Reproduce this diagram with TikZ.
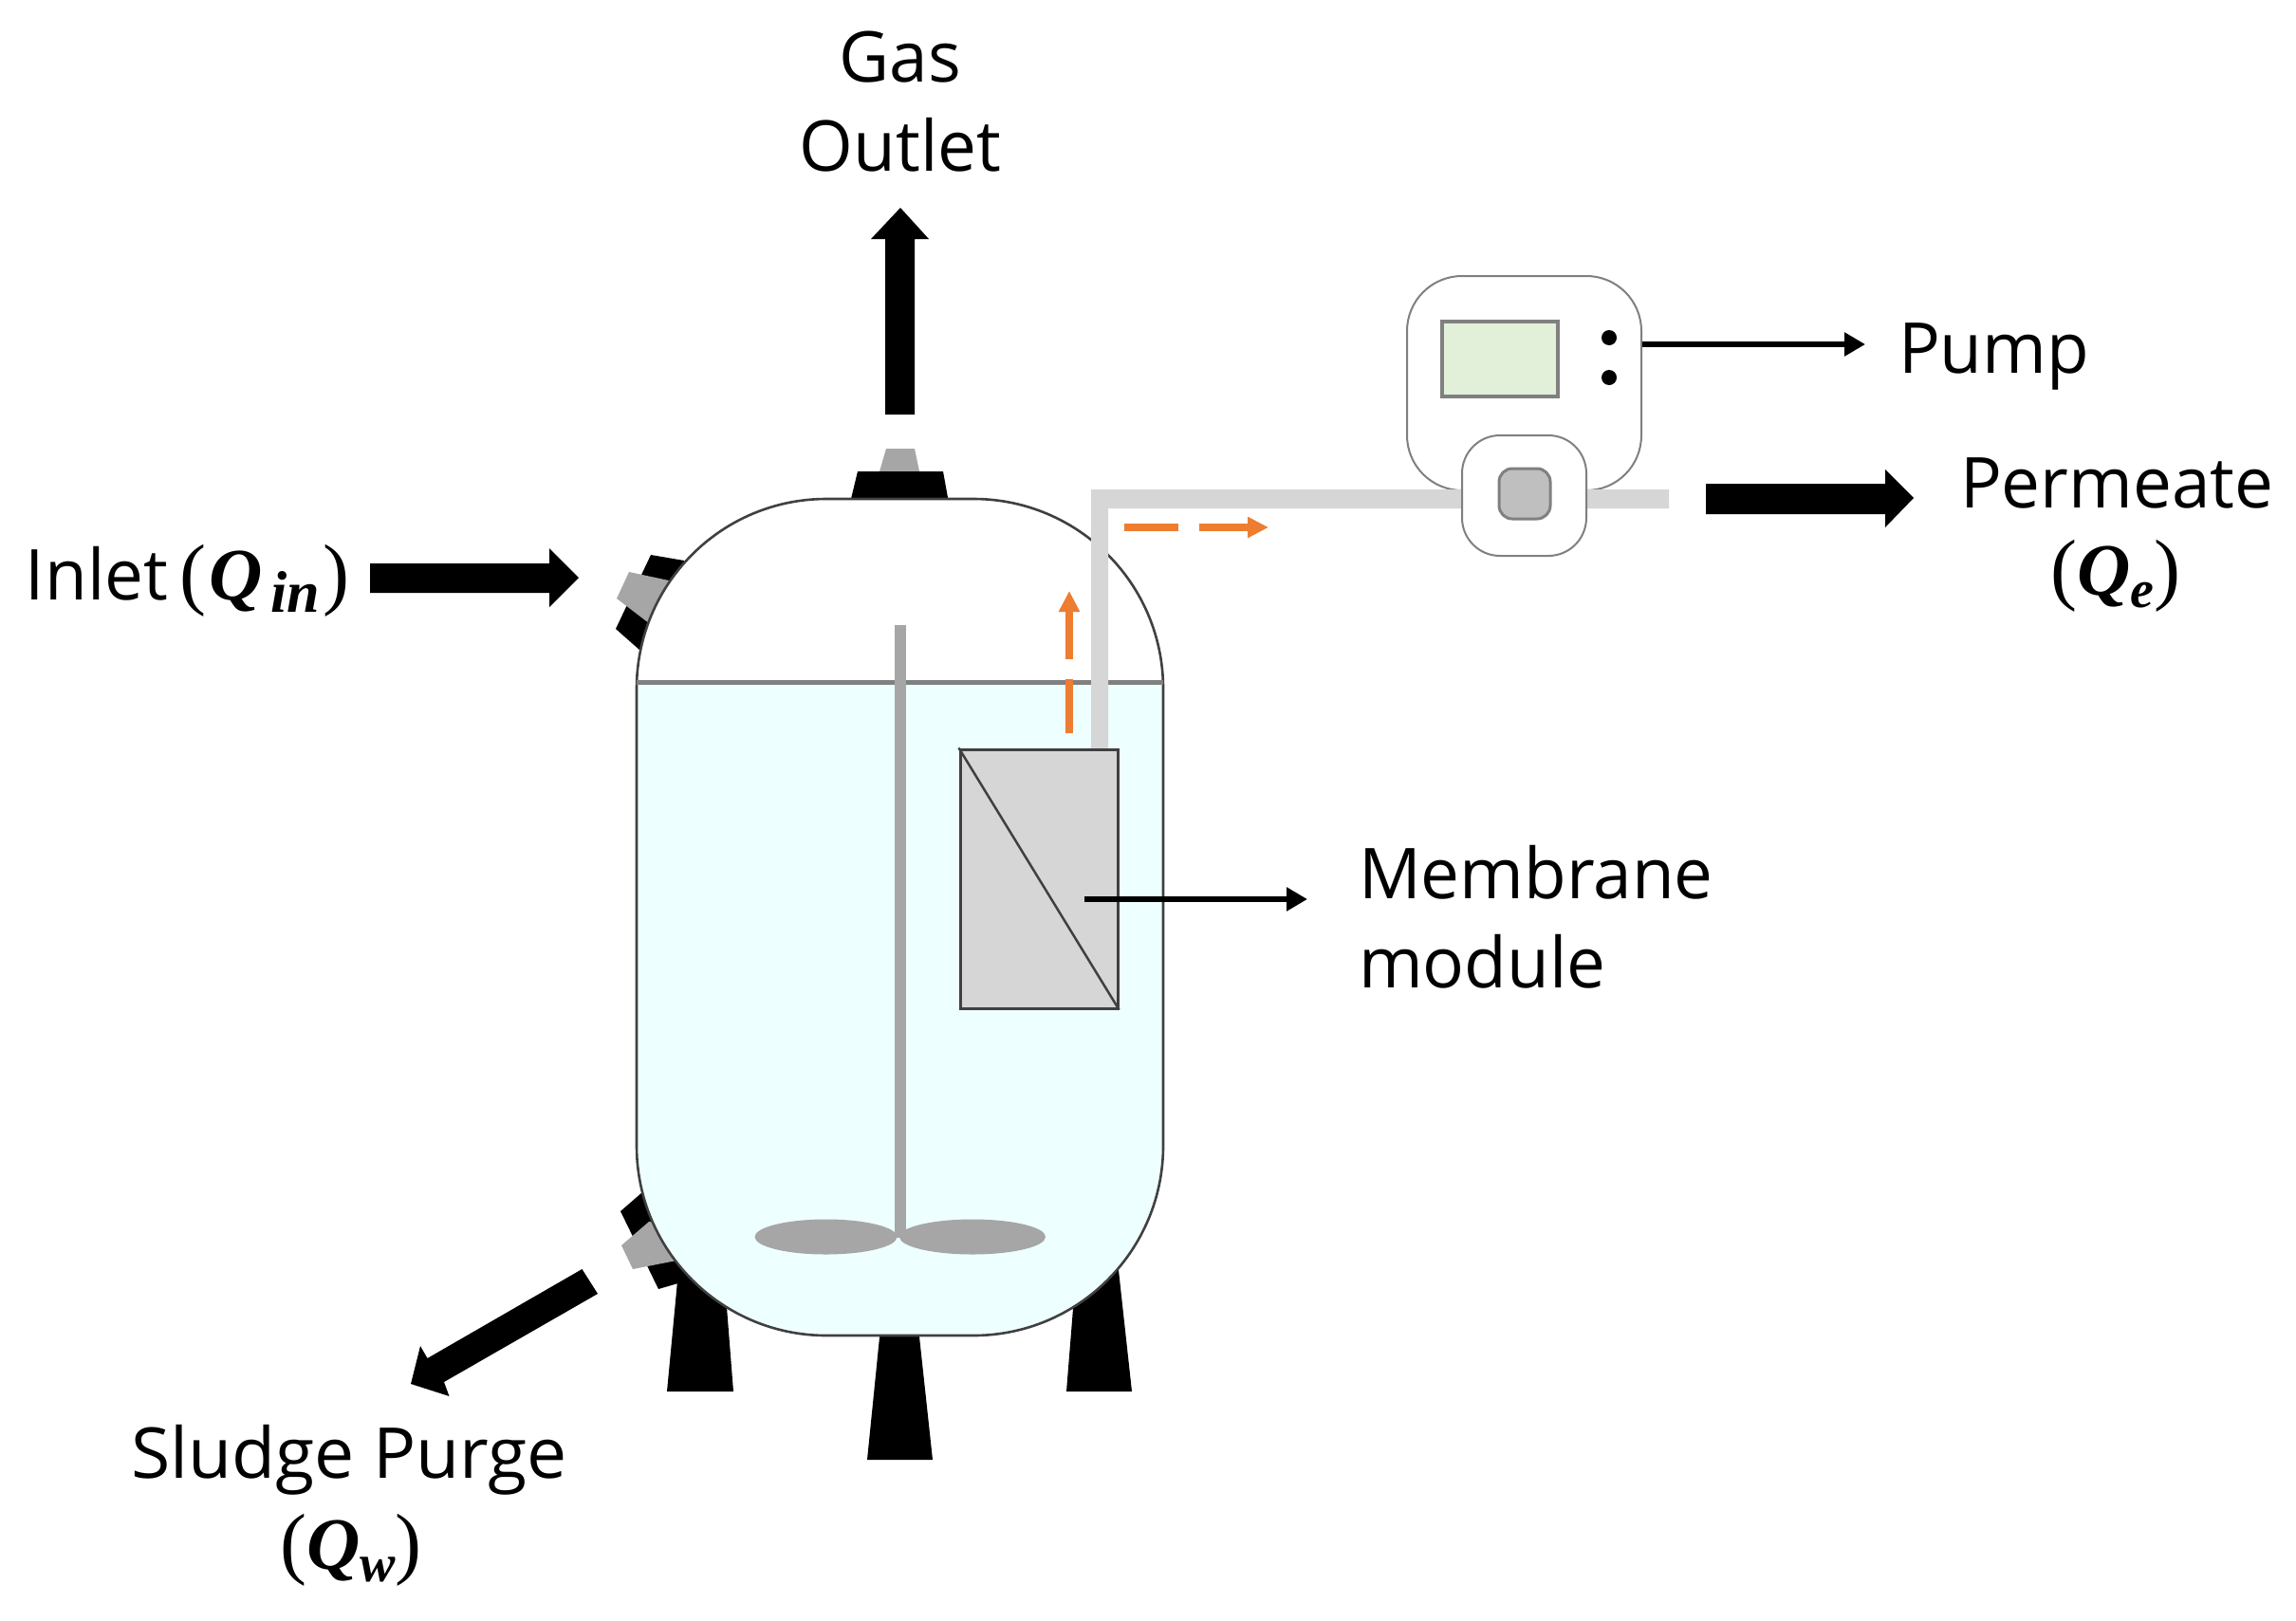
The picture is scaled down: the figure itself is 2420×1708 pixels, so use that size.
\documentclass[tikz,border=0pt]{standalone}
\usepackage{fontspec}
\setmainfont[FakeStretch=0.985]{Open Sans}
\newfontfamily\widefont[FakeStretch=1.015]{Open Sans}
\newfontfamily\qfont{Liberation Serif}
\usetikzlibrary{arrows.meta}
\definecolor{liquid}{HTML}{EEFFFF}
\definecolor{pipegray}{HTML}{D6D6D6}
\definecolor{partgray}{HTML}{A6A6A6}
\definecolor{linegray}{HTML}{808080}
\definecolor{tankline}{HTML}{404040}
\definecolor{flow}{HTML}{ED7D31}
\definecolor{screen}{HTML}{E2EFD9}
\newcommand{\lbl}{\fontsize{74}{74}\selectfont}
\newcommand{\qsym}[1]{{\qfont\bfseries\itshape\fontsize{78}{78}\selectfont Q\raisebox{-13pt}{\fontsize{56}{56}\selectfont #1}}}
\newcommand{\qsymwide}[1]{{\qfont\bfseries\itshape\fontsize{78}{78}\selectfont Q\hspace{9pt}\raisebox{-13pt}{\fontsize{62}{62}\selectfont #1}}}
\newcommand{\parenl}{{\qfont\fontsize{84}{84}\selectfont(}}
\newcommand{\parenr}{{\qfont\fontsize{84}{84}\selectfont)}}
\tikzset{
  label text/.style={anchor=base west,inner sep=0pt,outer sep=0pt,font=\lbl},
  solid part/.style={fill=black,draw=none},
  gray part/.style={fill=partgray,draw=none},
  thin pointer/.style={draw=black,line width=6pt,-{Triangle[length=22pt,width=24pt]}},
  flow line/.style={draw=flow,line width=8pt},
  flow tip/.style={draw=flow,line width=8pt,-{Triangle[length=22pt,width=21pt]}},
  tank outline/.style={draw=tankline,line width=2.6pt},
  soft box/.style={draw=linegray,line width=2pt,fill=white},
}
\begin{document}
\begin{tikzpicture}[x=1pt,y=-1pt]
\useasboundingbox (0,0) rectangle (2420,1708);
\fill[white] (0,0) rectangle (2420,1708);
% legs
\fill[solid part] (715,1340) -- (763,1340) -- (773,1467) -- (703,1467) -- cycle;
\fill[solid part] (1135,1330) -- (1178,1330) -- (1193,1467) -- (1124,1467) -- cycle;
\fill[solid part] (928,1400) -- (968,1400) -- (983,1539) -- (914,1539) -- cycle;
% top nozzle
\fill[gray part] (934,473) -- (964,473) -- (969,497) -- (927,497) -- cycle;
\fill[solid part] (904,497) -- (994,497) -- (1000,530) -- (896,530) -- cycle;
% inlet port
\fill[solid part] (686,585) -- (721,591) -- (715,690) -- (675,686) -- (649,663) -- cycle;
\fill[gray part] (663,603) -- (705,612) -- (700,670) -- (684,657) -- (650,631) -- cycle;
% purge port
\fill[solid part] (677,1257) -- (654,1277) -- (694,1359) -- (725,1350) -- (700,1260) -- cycle;
\fill[gray part] (684,1288) -- (655,1313) -- (667,1338) -- (713,1329) -- (700,1290) -- cycle;
% tank
\fill[white,rounded corners=200pt] (671,526) rectangle (1226,1408);
\begin{scope}
  \clip[rounded corners=200pt] (671,526) rectangle (1226,1408);
  \fill[liquid] (660,719) rectangle (1240,1420);
\end{scope}
\draw[tank outline,rounded corners=200pt] (671,526) rectangle (1226,1408);
\draw[draw=linegray,line width=5pt] (671,719) -- (1226,719);
% stirrer
\fill[partgray] (943,659) rectangle (955,1305);
\fill[partgray] (870.5,1304) ellipse [x radius=75,y radius=18.5];
\fill[partgray] (1025,1304) ellipse [x radius=77,y radius=18.5];
% pump body
\node[soft box,minimum width=247pt,minimum height=226pt,rounded corners=58pt,inner sep=0pt] (pump) at (1606.5,404) {};
% pipe
\fill[pipegray] (1150,790) -- (1150,516) -- (1759,516) -- (1759,536) -- (1168,536) -- (1168,790) -- cycle;
% pump head
\node[soft box,minimum width=131pt,minimum height=127pt,rounded corners=40pt,inner sep=0pt] (head) at (1606.5,522.5) {};
\node[draw=linegray,line width=3pt,fill=black!25,minimum width=54pt,minimum height=53pt,rounded corners=14pt,inner sep=0pt] (rotor) at (1607,520.5) {};
\node[draw=linegray,line width=4pt,fill=screen,minimum width=122pt,minimum height=79pt,inner sep=0pt] (display) at (1581,378.5) {};
\fill[black] (1696,356) circle (8);
\fill[black] (1696,398) circle (8);
% membrane module
\node[draw=tankline,line width=3pt,fill=pipegray,minimum width=166pt,minimum height=273pt,inner sep=0pt] (module) at (1095,926.5) {};
\draw[draw=tankline,line width=2.5pt] (module.north west) -- (module.south east);
% flow arrows
\coordinate (fa) at (1127,773);
\coordinate (fb) at (1127,716);
\coordinate (fc) at (1127,695);
\coordinate (fd) at (1127,623);
\draw[flow line] (fa) -- (fb);
\draw[flow tip] (fc) -- (fd);
\coordinate (fe) at (1185,556);
\coordinate (ff) at (1242,556);
\coordinate (fg) at (1264,556);
\coordinate (fh) at (1337,556);
\draw[flow line] (fe) -- (ff);
\draw[flow tip] (fg) -- (fh);
% block arrows
\fill[solid part] (933,437) -- (933,252) -- (918,252) -- (949,219) -- (979,252) -- (964,252) -- (964,437) -- cycle;
\fill[solid part] (390,594) -- (579,594) -- (579,578) -- (610,609) -- (579,640) -- (579,625) -- (390,625) -- cycle;
\fill[solid part] (1798,510) -- (1987,510) -- (1987,495) -- (2017,525) -- (1987,556) -- (1987,542) -- (1798,542) -- cycle;
\fill[solid part] (613.5,1338) -- (630,1364) -- (468,1457) -- (473.5,1472) -- (433,1459) -- (443,1419) -- (450.5,1432) -- cycle;
% labels
\node[label text,anchor=base] (gas) at (949,86) {Gas};
\node[label text,anchor=base] (outlet) at (949,180) {Outlet};
\node[label text] (inlet) at (27,632) {Inlet\hspace{12pt}\parenl\hspace{3pt}\qsymwide{in}\hspace{3pt}\parenr};
\node[label text] (pumplabel) at (2001,393) {Pump};
\node[label text] (permeate) at (2066,535) {Permeate};
\node[label text,anchor=base] (qe) at (2230,627) {\parenl\qsym{e}\parenr};
\node[label text] (membrane) at (1432,947) {Membrane};
\node[label text] (modulelabel) at (1432,1041) {module};
\node[label text] (sludge) at (138,1558) {\widefont Sludge Purge};
\node[label text,anchor=base] (qw) at (370,1654) {\parenl\qsym{w}\parenr};
% thin pointers
\coordinate (mstart) at (1143,948);
\coordinate (mend) at (1378,948);
\draw[thin pointer] (mstart) -- (mend);
\coordinate (pumpend) at (1966,363);
\draw[thin pointer] (pump.east |- pumpend) -- (pumpend);
\end{tikzpicture}
\end{document}
